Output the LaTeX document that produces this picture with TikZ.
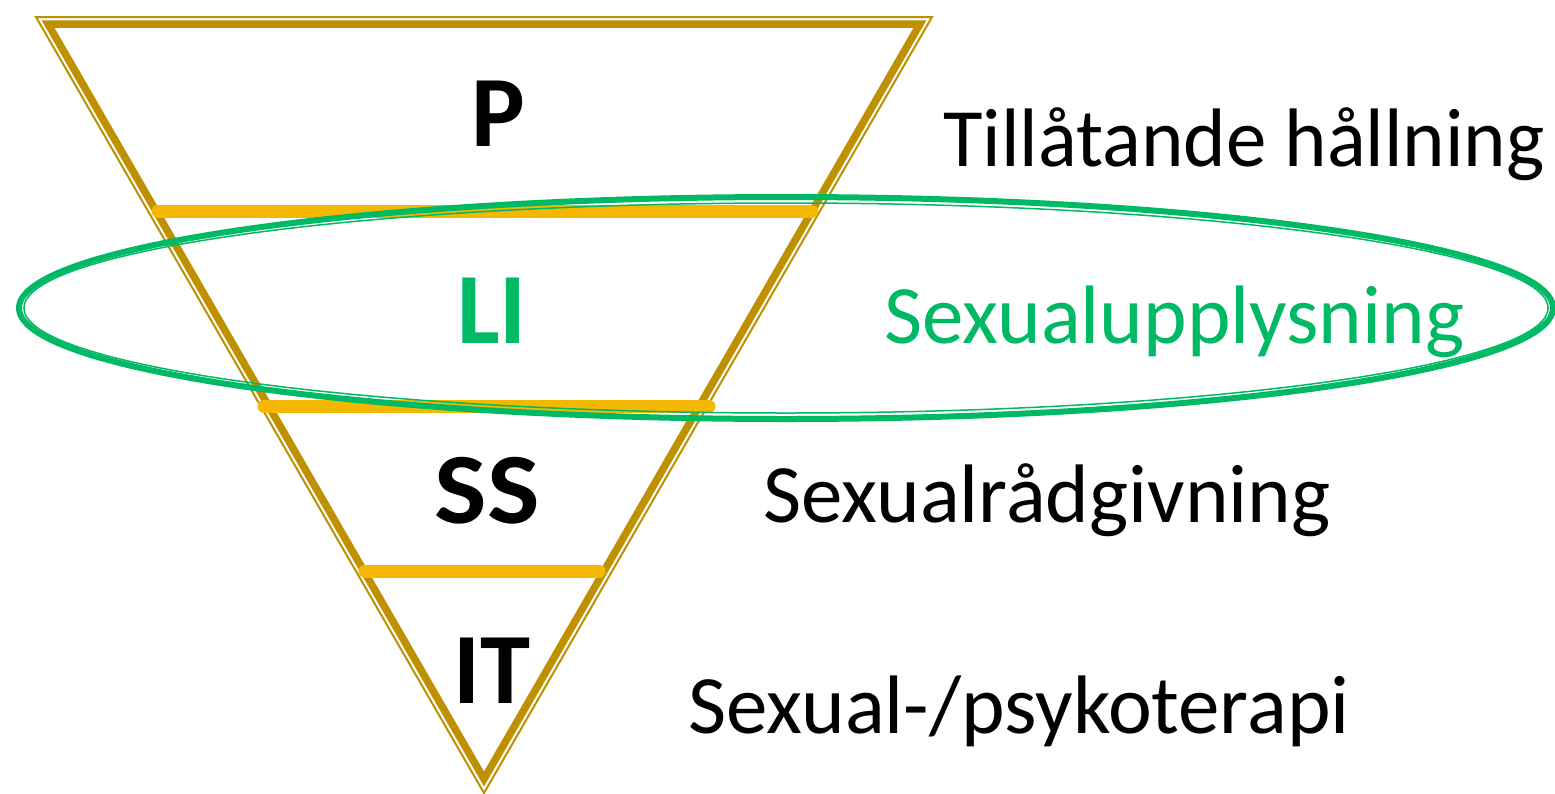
\documentclass[tikz,border=0pt]{standalone}
\usepackage{fontspec}
\setmainfont{Carlito}
\definecolor{gold}{RGB}{191,144,0}
\definecolor{ylw}{RGB}{244,184,0}
\definecolor{grn}{RGB}{0,185,100}
\begin{document}
\begin{tikzpicture}[x=1pt,y=-1pt,
  lbl/.style={anchor=base west,inner sep=0pt,font=\fontsize{83}{96}\selectfont},
  abbr/.style={anchor=base,inner sep=0pt,font=\fontsize{101}{115}\selectfont\bfseries},
  band/.style={ylw,line width=13pt,line cap=round}]
\useasboundingbox (0,0) rectangle (1555,793);
% triangle
\draw[gold,line width=2pt,line join=miter] (36,17) -- (932,17) -- (484,793) -- cycle;
\draw[gold,line width=7.5pt,line join=miter] (48,24) -- (920,24) -- (484,779) -- cycle;
% bands
\coordinate (b1l) at (158,211); \coordinate (b1r) at (812,211);
\coordinate (b2l) at (264,406); \coordinate (b2r) at (709,406);
\coordinate (b3l) at (365,571); \coordinate (b3r) at (599,571);
\draw[band] (b1l) -- (b1r);
\draw[band] (b2l) -- (b2r);
\draw[band] (b3l) -- (b3r);
% ellipse
\draw[grn,line width=6pt] (786,308) ellipse [x radius=767,y radius=111];
\draw[grn,line width=1.5pt] (786,308) ellipse [x radius=762,y radius=105];
% abbreviations
\node[abbr] (p) at (498,146) {P};
\node[abbr,text=grn] (li) at (492,343) {LI};
\node[abbr,xscale=1.1] (ss) at (487,523) {SS};
\node[abbr] (it) at (492,703) {IT};
% labels
\node[lbl,xscale=0.975] (t1) at (943,166) {Tillåtande hållning};
\node[lbl,text=grn] (t2) at (884,343) {Sexualupplysning};
\node[lbl] (t3) at (763,522) {Sexualrådgivning};
\node[lbl] (t4) at (688,733) {Sexual-/psykoterapi};
\end{tikzpicture}
\end{document}
